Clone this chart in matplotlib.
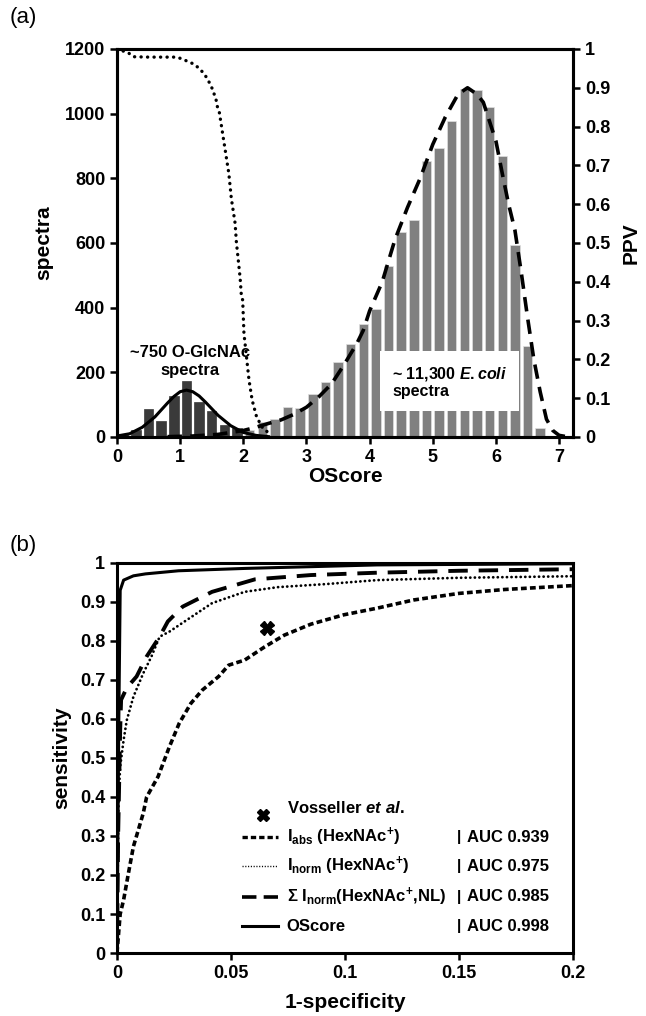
import numpy as np
import matplotlib
matplotlib.use("Agg")
import matplotlib.pyplot as plt

plt.rcParams['font.family'] = ['Liberation Sans', 'DejaVu Sans']
plt.rcParams['font.weight'] = 'bold'
plt.rcParams['mathtext.fontset'] = 'custom'
plt.rcParams['mathtext.rm'] = 'Liberation Sans:bold'
plt.rcParams['mathtext.bf'] = 'Liberation Sans:bold'
plt.rcParams['mathtext.it'] = 'Liberation Sans:bold:italic'

# panel (a): histogram of OScore
glc_centers = [0.1, 0.3, 0.5, 0.7, 0.9, 1.1, 1.3, 1.5, 1.7, 1.9]
glc_counts = [8, 22, 86, 49, 127, 172, 109, 80, 37, 27]

ecoli_centers = [2.1, 2.3, 2.5, 2.7, 2.9, 3.1, 3.3, 3.5, 3.7, 3.9, 4.1, 4.3,
                 4.5, 4.7, 4.9, 5.1, 5.3, 5.5, 5.7, 5.9, 6.1, 6.3, 6.5, 6.7]
ecoli_counts = [22, 45, 55, 92, 91, 132, 171, 232, 288, 349, 397, 529,
                634, 671, 855, 895, 977, 1075, 1073, 1020, 869, 594, 282, 27]

# fitted curves
glc_fit_x = [0, 0.2, 0.4, 0.6, 0.8, 0.9, 1.0, 1.1, 1.2, 1.3, 1.4, 1.6, 1.8, 2.0, 2.2, 2.4]
glc_fit_y = [3, 10, 30, 62, 105, 125, 140, 145, 140, 127, 108, 67, 35, 14, 5, 1]

ecoli_fit_x = [0.8, 1.2, 1.6, 2.0, 2.2, 2.4, 2.6, 2.8, 3.0, 3.2, 3.4, 3.6, 3.8, 3.9, 4.0,
               4.2, 4.4, 4.6, 4.8, 5.0, 5.2, 5.4, 5.55, 5.7, 5.8, 6.0, 6.1, 6.2, 6.3,
               6.4, 6.5, 6.6, 6.7, 6.8, 6.9, 7.0, 7.15]
ecoli_fit_y = [1, 3, 8, 20, 30, 42, 53, 70, 92, 125, 165, 225, 290, 330, 390,
               480, 610, 710, 800, 905, 990, 1060, 1080, 1060, 1035, 915, 815, 720, 640,
               510, 370, 240, 140, 55, 20, 5, 0]

ppv_x = [0, 0.18, 0.26, 0.5, 0.94, 1.04, 1.13, 1.22, 1.30, 1.37, 1.42, 1.47, 1.51, 1.54,
         1.57, 1.59, 1.62, 1.65, 1.68, 1.71, 1.74, 1.77, 1.79, 1.81, 1.84, 1.87, 1.89,
         1.92, 1.95, 1.97, 1.99, 2.01, 2.05, 2.09, 2.14, 2.21, 2.31, 2.45]
ppv_y = [1.0, 0.99, 0.98, 0.979, 0.979, 0.974, 0.967, 0.961, 0.95, 0.938, 0.926, 0.911,
         0.897, 0.883, 0.868, 0.851, 0.837, 0.806, 0.774, 0.743, 0.711, 0.68, 0.648,
         0.615, 0.583, 0.551, 0.503, 0.456, 0.409, 0.362, 0.353, 0.267, 0.207, 0.147,
         0.095, 0.052, 0.022, 0.005]

# panel (b): ROC curves
abs_x = [0, 0.0014, 0.0029, 0.005, 0.0072, 0.0115, 0.013, 0.018, 0.023, 0.0273, 0.0324,
         0.0374, 0.0446, 0.049, 0.056, 0.0648, 0.0734, 0.085, 0.0994, 0.114, 0.13, 0.15,
         0.17, 0.2]
abs_y = [0, 0.10, 0.136, 0.204, 0.273, 0.358, 0.40, 0.452, 0.529, 0.589, 0.64,
         0.674, 0.709, 0.738, 0.751, 0.785, 0.815, 0.843, 0.867, 0.884, 0.905, 0.922,
         0.932, 0.942]

norm_x = [0, 0.0003, 0.0007, 0.0014, 0.0029, 0.0043, 0.0072, 0.0115, 0.0151, 0.0187,
          0.023, 0.0317, 0.0417, 0.056, 0.0705, 0.092, 0.114, 0.15, 0.2]
norm_y = [0, 0.2, 0.40, 0.478, 0.546, 0.597, 0.657, 0.717, 0.76, 0.811,
          0.824, 0.858, 0.897, 0.926, 0.938, 0.946, 0.956, 0.962, 0.966]

sum_x = [0, 0.0005, 0.0014, 0.0018, 0.0043, 0.0086, 0.013, 0.0187, 0.0223, 0.0288,
         0.0417, 0.0605, 0.085, 0.114, 0.15, 0.2]
sum_y = [0, 0.3, 0.572, 0.649, 0.68, 0.709, 0.76, 0.811, 0.85, 0.888,
         0.926, 0.958, 0.969, 0.975, 0.98, 0.984]

osc_x = [0, 0.0008, 0.0014, 0.0029, 0.0072, 0.0125, 0.027, 0.056, 0.114, 0.2]
osc_y = [0, 0.6, 0.93, 0.956, 0.967, 0.972, 0.980, 0.986, 0.995, 0.998]

voss_x = [0.066]
voss_y = [0.834]

legend_labels = [r'I$_{\mathrm{abs}}$ (HexNAc$^{\mathrm{+}}$)',
                 r'I$_{\mathrm{norm}}$ (HexNAc$^{\mathrm{+}}$)',
                 u'\u03a3 I$_{\\mathrm{norm}}$(HexNAc$^{\\mathrm{+}}$,NL)',
                 'OScore']
auc_values = [0.939, 0.975, 0.985, 0.998]

fig = plt.figure(figsize=(6.46, 10.16), dpi=100)

# ---------------- (a)
ax = fig.add_axes([0.1811, 0.5699, 0.7059, 0.3819])
ax.bar(ecoli_centers, ecoli_counts, width=0.15, color='#808080', edgecolor='#e0e0e0',
       linewidth=0.5, zorder=2)
ax.bar(glc_centers, glc_counts, width=0.15, color='#3a3a3a', edgecolor='#3a3a3a',
       linewidth=0.5, zorder=2)
ax.plot(glc_fit_x, glc_fit_y, color='black', lw=2.2, zorder=4)
ax.plot(ecoli_fit_x, ecoli_fit_y, color='black', lw=2.6, ls=(0, (4.0, 2.3)), zorder=4)
ax.set_xlim(0, 7.22)
ax.set_ylim(0, 1200)
ax.set_xticks(range(0, 8))
ax.set_yticks(range(0, 1201, 200))
ax.set_xlabel('OScore', fontsize=15, fontweight='bold', labelpad=1)
ax.set_ylabel('spectra', fontsize=15, fontweight='bold', labelpad=8)
ax.text(1.15, 260, '~750 O-GlcNAc', ha='center', va='center', fontsize=12, zorder=6)
ax.text(1.15, 207, 'spectra', ha='center', va='center', fontsize=12, zorder=6)
ax.text(4.36, 170, '~ 11,300 $\\it{E.coli}$\nspectra', ha='left', va='center',
        fontsize=11.5, linespacing=1.15, zorder=6,
        bbox=dict(boxstyle='square,pad=0.75', fc='white', ec='none'))

ax2 = ax.twinx()
ax2.plot(ppv_x, ppv_y, color='black', lw=2.4, ls=(0, (0.05, 1.9)),
         dash_capstyle='round', zorder=5)
ax2.set_ylim(0, 1)
ax2.set_yticks(np.arange(0, 1.01, 0.1))
ax2.set_yticklabels(['0', '0.1', '0.2', '0.3', '0.4', '0.5', '0.6', '0.7', '0.8', '0.9', '1'])
ax2.set_ylabel('PPV', fontsize=15, fontweight='bold', labelpad=8)

for a in (ax, ax2):
    for s in a.spines.values():
        s.set_linewidth(2.2)
    a.tick_params(width=1.8, length=5, labelsize=13, direction='out')

# ---------------- (b)
bx = fig.add_axes([0.1811, 0.062, 0.7059, 0.3839])
bx.plot(abs_x, abs_y, color='black', lw=2.6, ls=(0, (1.6, 0.9)))
bx.plot(norm_x, norm_y, color='black', lw=2.0, ls=(0, (0.05, 1.6)), dash_capstyle='round')
bx.plot(sum_x, sum_y, color='black', lw=2.8, ls=(0, (5.0, 2.8)))
bx.plot(osc_x, osc_y, color='black', lw=2.2)
bx.plot(voss_x, voss_y, marker='X', color='black', ms=10, ls='none')
bx.set_xlim(0, 0.2)
bx.set_ylim(0, 1)
bx.set_xticks([0, 0.05, 0.1, 0.15, 0.2])
bx.set_xticklabels(['0', '0.05', '0.1', '0.15', '0.2'])
bx.set_yticks(np.arange(0, 1.01, 0.1))
bx.set_yticklabels(['0', '0.1', '0.2', '0.3', '0.4', '0.5', '0.6', '0.7', '0.8', '0.9', '1'])
bx.set_xlabel('1-specificity', fontsize=15, fontweight='bold', labelpad=8)
bx.set_ylabel('sensitivity', fontsize=15, fontweight='bold', labelpad=6)
for s in bx.spines.values():
    s.set_linewidth(2.2)
bx.tick_params(width=1.8, length=5, labelsize=13, direction='out')

# legend drawn by hand
tr = bx.transAxes
bx.plot([0.3195], [0.355], marker='X', color='black', ms=9, transform=tr, ls='none')
bx.text(0.372, 0.372, r'Vosseller $\it{et\ al.}$', transform=tr, fontsize=12, va='center')
styles = [dict(lw=2.4, ls=(0, (1.6, 0.9))), dict(lw=1.0, ls=(0, (0.8, 1.2))),
          dict(lw=2.6, ls=(0, (4.0, 2.0))), dict(lw=2.2, ls='-')]
rows = [0.297, 0.223, 0.144, 0.069]
for st, yy, lab, auc in zip(styles, rows, legend_labels, auc_values):
    bx.plot([0.275, 0.353], [yy, yy], color='black', transform=tr, **st)
    bx.text(0.372, yy, lab, transform=tr, fontsize=12, va='center')
    bx.text(0.745, yy, '|', transform=tr, fontsize=11, va='center')
    bx.text(0.768, yy, 'AUC %.3f' % auc, transform=tr, fontsize=12, va='center')

fig.text(0.015, 0.983, '(a)', fontsize=16, fontweight='normal', va='center')
fig.text(0.015, 0.463, '(b)', fontsize=16, fontweight='normal', va='center')

fig.savefig('out.png', dpi=100)
